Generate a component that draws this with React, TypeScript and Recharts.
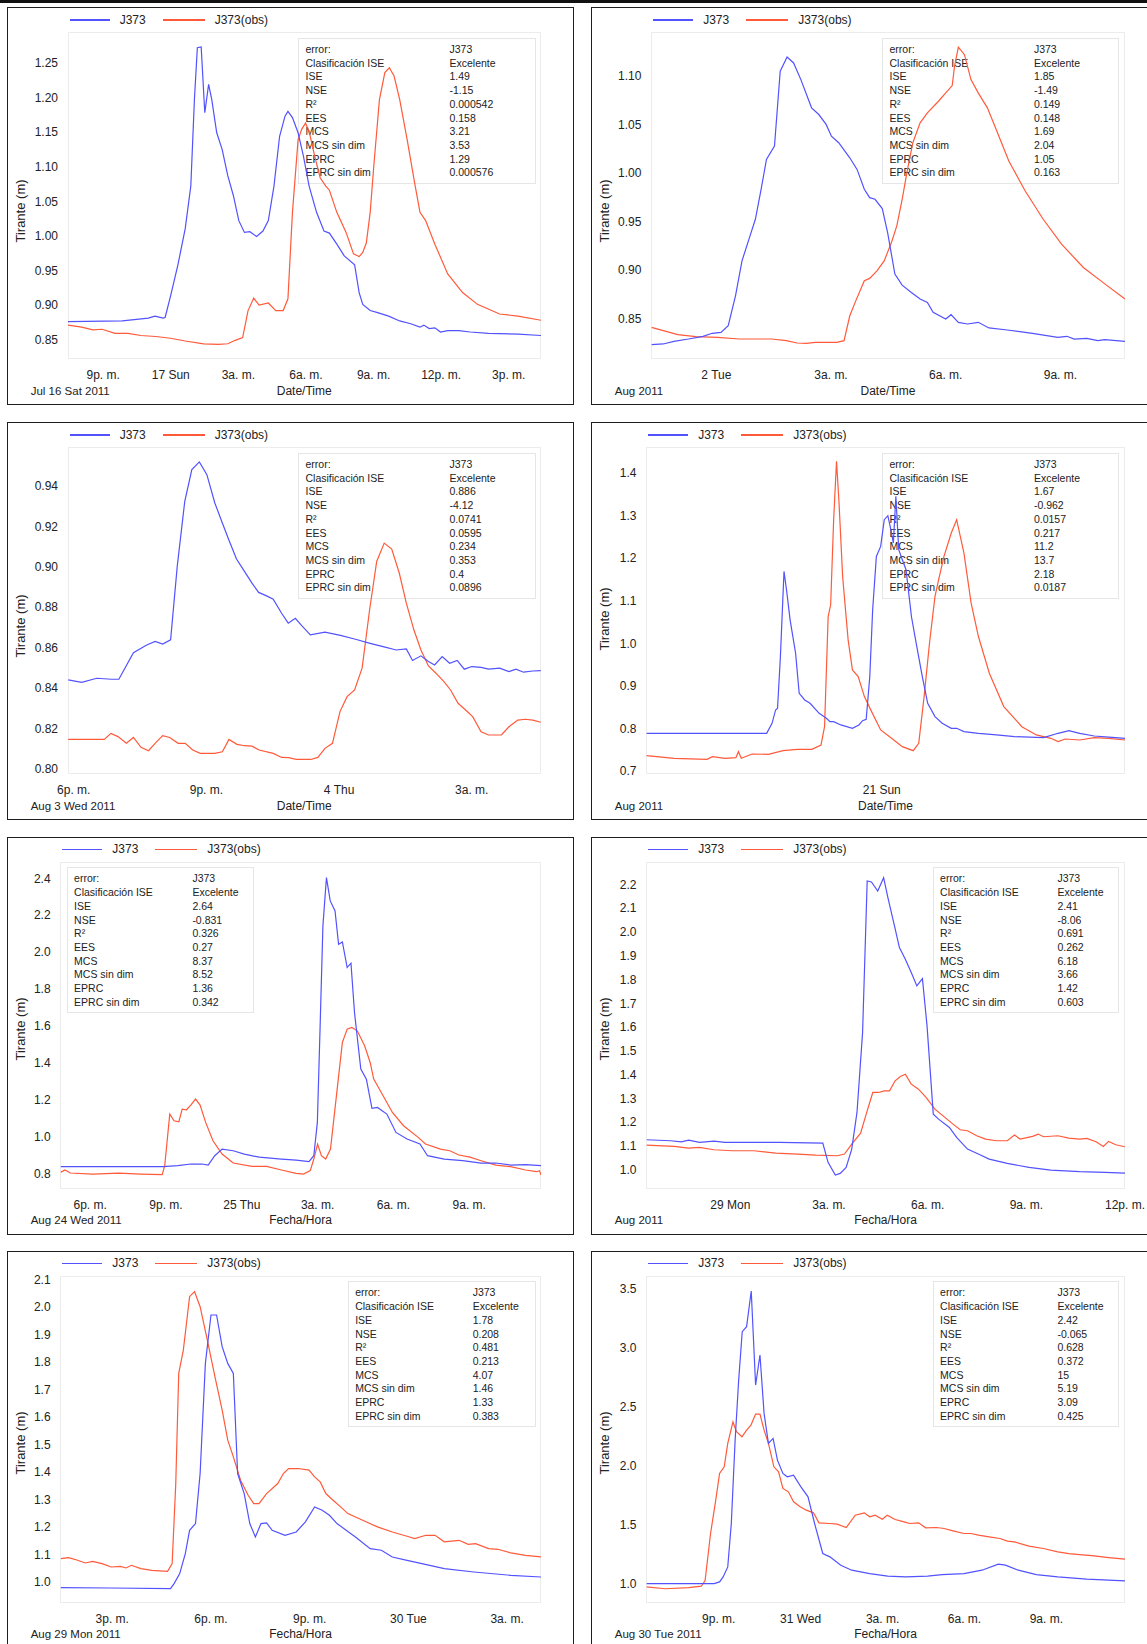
import { LineChart, Line, XAxis, YAxis } from "recharts";

type Pt = [number, number];

const FONT = '"Liberation Sans", Arial, Helvetica, sans-serif';
const BLUE = "#5252ff";
const RED = "#ff5a3a";
const W = 567;
const H = 398;
const PLOT_TOP = 25;
const PLOT_H = 327;
const RIGHT = 33;

const statNames = ["error:", "Clasificación ISE", "ISE", "NSE", "R²", "EES", "MCS", "MCS sin dim", "EPRC", "EPRC sin dim"];

// ---- panel 1: Jul 16-17 ----
const sim1: Pt[] = [[19.44,0.876],[21.85,0.877],[23.0,0.881],[23.3,0.884],[23.66,0.881],[23.75,0.882],[23.99,0.913],[24.31,0.957],[24.64,1.01],[24.89,1.072],[25.05,1.197],[25.18,1.272],[25.35,1.273],[25.51,1.178],[25.68,1.219],[25.82,1.197],[26.04,1.149],[26.28,1.125],[26.53,1.087],[26.78,1.058],[27.02,1.022],[27.27,1.005],[27.51,1.006],[27.81,0.999],[28.09,1.007],[28.33,1.022],[28.58,1.072],[28.83,1.144],[29.07,1.173],[29.2,1.18],[29.4,1.171],[29.65,1.149],[29.89,1.115],[30.14,1.072],[30.47,1.034],[30.8,1.007],[31.04,1.004],[31.37,0.988],[31.7,0.971],[32.16,0.958],[32.36,0.918],[32.52,0.901],[32.85,0.892],[33.18,0.889],[33.67,0.884],[34.16,0.877],[34.65,0.873],[35.06,0.868],[35.23,0.871],[35.47,0.866],[35.72,0.867],[35.97,0.861],[36.29,0.863],[36.79,0.863],[37.28,0.861],[38.1,0.859],[39.41,0.858],[40.43,0.856]];
const obs1: Pt[] = [[19.44,0.871],[20.05,0.868],[20.54,0.864],[20.95,0.865],[21.53,0.859],[22.1,0.859],[22.67,0.856],[23.33,0.8545],[23.99,0.852],[24.64,0.848],[25.46,0.844],[26.12,0.843],[26.53,0.844],[26.86,0.849],[27.19,0.853],[27.43,0.892],[27.68,0.91],[27.92,0.9],[28.33,0.903],[28.66,0.892],[28.99,0.892],[29.2,0.909],[29.4,1.034],[29.65,1.139],[29.81,1.154],[29.98,1.163],[30.14,1.151],[30.39,1.115],[30.63,1.084],[30.88,1.072],[31.04,1.066],[31.37,1.034],[31.78,1.005],[32.11,0.974],[32.36,0.97],[32.52,0.976],[32.68,0.99],[32.85,1.034],[33.01,1.101],[33.26,1.197],[33.5,1.236],[33.7,1.243],[33.91,1.231],[34.16,1.197],[34.49,1.139],[34.82,1.077],[35.06,1.034],[35.31,1.022],[35.72,0.988],[36.29,0.945],[36.95,0.918],[37.61,0.901],[38.59,0.887],[39.41,0.884],[40.43,0.878]];
const ticksX1 = [21, 24, 27, 30, 33, 36, 39];
const labelsX1 = ["9p. m.", "17 Sun", "3a. m.", "6a. m.", "9a. m.", "12p. m.", "3p. m."];
const ticksY1 = [0.85, 0.9, 0.95, 1.0, 1.05, 1.1, 1.15, 1.2, 1.25];
const stats1 = ["J373", "Excelente", "1.49", "-1.15", "0.000542", "0.158", "3.21", "3.53", "1.29", "0.000576"];

// ---- panel 2: Aug 1-2 ----
const sim2: Pt[] = [[22.3,0.823],[22.61,0.8236],[22.89,0.8263],[23.27,0.8287],[23.65,0.8315],[23.89,0.8346],[24.12,0.8356],[24.31,0.8425],[24.5,0.8733],[24.67,0.9093],[24.88,0.935],[25.02,0.9522],[25.17,0.9831],[25.31,1.0139],[25.52,1.0276],[25.67,1.1048],[25.85,1.1195],[26.02,1.1134],[26.21,1.0962],[26.49,1.0671],[26.68,1.0602],[26.87,1.05],[27.01,1.0379],[27.2,1.0311],[27.49,1.0156],[27.68,1.0036],[27.87,0.9831],[28.01,0.9745],[28.15,0.9728],[28.34,0.9632],[28.48,0.9385],[28.67,0.8956],[28.86,0.8843],[29.1,0.8767],[29.33,0.8699],[29.52,0.8665],[29.67,0.8562],[30.0,0.8493],[30.14,0.8538],[30.33,0.8459],[30.57,0.8442],[30.85,0.8459],[31.13,0.8401],[31.61,0.838],[32.27,0.8346],[32.93,0.8305],[33.17,0.8315],[33.36,0.8287],[33.69,0.8294],[33.98,0.827],[34.16,0.828],[34.69,0.8263]];
const obs2: Pt[] = [[22.3,0.8407],[22.61,0.8373],[22.99,0.8332],[23.46,0.8311],[24.03,0.8305],[24.6,0.8287],[25.45,0.8287],[25.83,0.827],[26.11,0.8246],[26.35,0.8243],[26.59,0.8253],[27.15,0.8253],[27.34,0.827],[27.49,0.8527],[27.63,0.8665],[27.87,0.8888],[28.01,0.8912],[28.2,0.899],[28.39,0.9093],[28.58,0.9282],[28.72,0.9453],[28.86,0.9728],[29.0,1.0036],[29.14,1.0311],[29.33,1.0516],[29.52,1.0619],[29.81,1.0739],[30.0,1.0825],[30.17,1.0901],[30.23,1.1099],[30.33,1.1298],[30.49,1.1219],[30.66,1.0962],[30.85,1.0825],[31.09,1.0671],[31.32,1.0448],[31.65,1.0122],[32.08,0.9813],[32.55,0.9522],[33.03,0.9265],[33.6,0.9025],[34.17,0.8853],[34.69,0.8699]];
const ticksX2 = [24, 27, 30, 33];
const labelsX2 = ["2 Tue", "3a. m.", "6a. m.", "9a. m."];
const ticksY2 = [0.85, 0.9, 0.95, 1.0, 1.05, 1.1];
const stats2 = ["J373", "Excelente", "1.85", "-1.49", "0.149", "0.148", "1.69", "2.04", "1.05", "0.163"];

// ---- panel 3: Aug 3-4 ----
const sim3: Pt[] = [[17.875,0.844],[18.18,0.8428],[18.52,0.8448],[18.85,0.8443],[19.02,0.8443],[19.35,0.8575],[19.65,0.8613],[19.84,0.863],[20.01,0.8617],[20.19,0.8638],[20.34,0.9002],[20.51,0.9324],[20.67,0.9481],[20.84,0.9519],[21.01,0.9456],[21.19,0.9316],[21.36,0.9217],[21.51,0.9131],[21.68,0.9038],[21.86,0.8977],[22.03,0.8919],[22.18,0.8873],[22.36,0.8856],[22.51,0.884],[22.7,0.877],[22.85,0.8721],[23.01,0.8745],[23.16,0.8707],[23.35,0.8663],[23.68,0.8676],[24.03,0.866],[24.37,0.8641],[24.7,0.8621],[25.04,0.8602],[25.29,0.8588],[25.52,0.8593],[25.66,0.8536],[25.85,0.8559],[26.02,0.8531],[26.16,0.8514],[26.33,0.8555],[26.5,0.8522],[26.67,0.8536],[26.83,0.8493],[27.0,0.8506],[27.21,0.8502],[27.38,0.8493],[27.63,0.8498],[27.84,0.8481],[28.0,0.8493],[28.17,0.8478],[28.38,0.8484],[28.56,0.8486]];
const obs3: Pt[] = [[17.875,0.8145],[18.69,0.8145],[18.84,0.8175],[19.0,0.8159],[19.19,0.8126],[19.35,0.8155],[19.52,0.8106],[19.69,0.8089],[19.84,0.8126],[20.01,0.8164],[20.17,0.8155],[20.36,0.8126],[20.52,0.8126],[20.69,0.8093],[20.86,0.8076],[21.19,0.8076],[21.36,0.8084],[21.51,0.8145],[21.69,0.8121],[21.86,0.8114],[22.03,0.8112],[22.19,0.8093],[22.51,0.8076],[22.7,0.8056],[22.86,0.8055],[23.03,0.8046],[23.36,0.8046],[23.52,0.8056],[23.68,0.8101],[23.85,0.8126],[24.02,0.8283],[24.18,0.8357],[24.35,0.839],[24.52,0.8498],[24.69,0.8787],[24.85,0.9026],[25.02,0.9117],[25.19,0.9088],[25.36,0.8969],[25.52,0.882],[25.69,0.8688],[25.85,0.8588],[26.02,0.8509],[26.19,0.8473],[26.37,0.8431],[26.52,0.839],[26.69,0.8324],[26.86,0.8291],[27.02,0.8258],[27.21,0.8183],[27.38,0.8167],[27.67,0.8167],[27.84,0.8208],[28.04,0.8241],[28.21,0.8245],[28.38,0.8241],[28.56,0.823]];
const ticksX3 = [18, 21, 24, 27];
const labelsX3 = ["6p. m.", "9p. m.", "4 Thu", "3a. m."];
const ticksY3 = [0.8, 0.82, 0.84, 0.86, 0.88, 0.9, 0.92, 0.94];
const stats3 = ["J373", "Excelente", "0.886", "-4.12", "0.0741", "0.0595", "0.234", "0.353", "0.4", "0.0896"];

// ---- panel 4: Aug 20-21 ----
const sim4: Pt[] = [[4.33,0.7886],[14.38,0.7886],[14.83,0.812],[15.13,0.8434],[15.29,0.8473],[15.53,0.9689],[15.83,1.1688],[16.04,1.1257],[16.34,1.0551],[16.8,0.9767],[17.1,0.8826],[17.56,0.8669],[18.01,0.8591],[18.77,0.8356],[19.37,0.8238],[19.67,0.816],[19.98,0.816],[20.58,0.8082],[21.55,0.8003],[22.09,0.8082],[22.4,0.8183],[22.7,0.8215],[23.0,0.9218],[23.24,1.0786],[23.55,1.204],[23.91,1.2275],[24.21,1.2903],[24.51,1.2997],[24.76,1.2667],[24.97,1.2354],[25.18,1.3451],[25.42,1.2197],[25.72,1.1962],[26.03,1.1727],[26.48,1.0629],[26.93,0.9924],[27.39,0.9218],[27.84,0.8591],[28.45,0.8278],[29.05,0.8121],[29.81,0.8003],[30.26,0.8003],[30.87,0.7925],[32.08,0.7886],[33.59,0.7847],[35.1,0.7807],[37.52,0.7784],[38.74,0.7886],[39.64,0.7948],[40.55,0.7886],[41.76,0.7823],[43.27,0.7792],[44.33,0.7768]];
const obs4: Pt[] = [[4.33,0.736],[6.66,0.7298],[9.39,0.7274],[9.85,0.7337],[10.9,0.7298],[11.81,0.7313],[12.02,0.7455],[12.26,0.7298],[13.17,0.74],[14.53,0.7392],[15.74,0.7478],[16.95,0.7509],[18.16,0.7509],[18.92,0.7611],[19.22,0.8042],[19.52,1.0629],[19.73,1.0904],[19.98,1.2903],[20.22,1.4274],[20.43,1.3295],[20.73,1.157],[21.19,1.008],[21.55,0.9375],[22.03,0.9218],[22.55,0.8748],[23.15,0.8395],[23.91,0.7964],[24.82,0.7768],[25.72,0.7572],[26.63,0.7478],[27.09,0.7651],[27.54,0.8748],[27.99,1.0002],[28.45,1.11],[28.75,1.1492],[29.2,1.204],[29.81,1.2589],[30.26,1.2903],[30.87,1.2119],[31.47,1.0943],[32.08,1.0159],[32.99,0.9297],[34.2,0.8513],[35.71,0.8042],[36.92,0.7847],[38.13,0.7768],[38.74,0.769],[39.34,0.7752],[40.55,0.7729],[41.76,0.7784],[42.97,0.7768],[44.33,0.7729]];
const ticksX4 = [24];
const labelsX4 = ["21 Sun"];
const ticksY4 = [0.7, 0.8, 0.9, 1.0, 1.1, 1.2, 1.3, 1.4];
const stats4 = ["J373", "Excelente", "1.67", "-0.962", "0.0157", "0.217", "11.2", "13.7", "2.18", "0.0187"];

// ---- panel 5: Aug 24-25 ----
const sim5: Pt[] = [[16.83,0.8396],[20.88,0.8396],[21.47,0.845],[21.98,0.8541],[22.42,0.8541],[22.67,0.8486],[22.93,0.8991],[23.22,0.9351],[23.66,0.9261],[24.1,0.9081],[24.69,0.891],[25.57,0.8811],[26.15,0.8757],[26.66,0.8667],[26.85,0.8991],[26.99,1.0793],[27.1,1.6018],[27.21,2.1423],[27.35,2.4036],[27.5,2.2775],[27.69,2.2234],[27.83,2.0432],[27.98,2.0559],[28.17,1.9171],[28.32,1.9405],[28.46,1.6739],[28.71,1.3676],[28.93,1.3135],[29.15,1.155],[29.37,1.1604],[29.74,1.1243],[30.1,1.0252],[30.54,0.9892],[31.05,0.9622],[31.35,0.8991],[32.01,0.8811],[32.74,0.872],[33.47,0.8595],[34.05,0.8595],[34.64,0.8486],[35.23,0.8505],[35.84,0.845]];
const obs5: Pt[] = [[16.83,0.809],[17.0,0.8216],[17.22,0.8054],[18.1,0.8],[19.13,0.8054],[20.0,0.8],[20.85,0.7964],[20.95,0.845],[21.15,1.1243],[21.32,1.0883],[21.51,1.0829],[21.64,1.1514],[21.81,1.1477],[21.98,1.173],[22.17,1.2054],[22.35,1.173],[22.57,1.0793],[22.86,0.9802],[23.22,0.9081],[23.66,0.8595],[24.4,0.8414],[24.98,0.8414],[25.57,0.8216],[26.15,0.8036],[26.44,0.8],[26.71,0.8182],[26.85,0.8811],[27.0,0.9622],[27.15,0.8991],[27.32,0.8811],[27.51,0.9351],[27.76,1.2414],[27.98,1.5117],[28.17,1.5838],[28.35,1.5928],[28.57,1.5748],[28.86,1.4937],[29.08,1.4036],[29.22,1.3135],[29.52,1.2414],[29.96,1.1333],[30.4,1.0613],[30.98,0.9982],[31.27,0.9622],[31.86,0.9351],[32.23,0.9261],[32.59,0.9027],[33.03,0.891],[33.47,0.872],[34.05,0.8486],[34.64,0.8396],[35.23,0.8216],[35.66,0.8126],[35.78,0.8182],[35.84,0.7946]];
const ticksX5 = [18, 21, 24, 27, 30, 33];
const labelsX5 = ["6p. m.", "9p. m.", "25 Thu", "3a. m.", "6a. m.", "9a. m."];
const ticksY5 = [0.8, 1.0, 1.2, 1.4, 1.6, 1.8, 2.0, 2.2, 2.4];
const stats5 = ["J373", "Excelente", "2.64", "-0.831", "0.326", "0.27", "8.37", "8.52", "1.36", "0.342"];

// ---- panel 6: Aug 28-29 ----
const sim6: Pt[] = [[21.45,1.126],[22.18,1.1219],[22.51,1.1176],[22.73,1.1247],[23.06,1.1149],[23.5,1.1205],[23.83,1.1149],[24.39,1.1149],[25.49,1.1149],[26.81,1.1121],[26.97,1.0309],[27.19,0.9777],[27.34,0.9847],[27.52,1.0099],[27.69,1.0869],[27.85,1.2409],[28.02,1.5769],[28.16,2.214],[28.29,2.2098],[28.48,2.172],[28.66,2.228],[28.79,2.144],[28.99,2.025],[29.14,1.934],[29.32,1.885],[29.5,1.829],[29.67,1.773],[29.84,1.8037],[29.98,1.6049],[30.17,1.2339],[30.33,1.2129],[30.66,1.1779],[30.88,1.1359],[31.21,1.0869],[31.54,1.0659],[31.87,1.0449],[32.42,1.0267],[33.08,1.0099],[33.74,0.9987],[34.62,0.9917],[35.39,0.9889],[36.0,0.9861]];
const obs6: Pt[] = [[21.45,1.1037],[22.29,1.0981],[22.73,1.0911],[23.06,1.0939],[23.5,1.0841],[24.06,1.0799],[24.72,1.0799],[25.38,1.0701],[26.04,1.0659],[26.59,1.0617],[27.25,1.0589],[27.47,1.0659],[27.69,1.1079],[27.96,1.154],[28.13,1.2339],[28.33,1.3249],[28.51,1.3249],[28.68,1.3319],[28.84,1.3319],[29.01,1.3739],[29.17,1.3921],[29.32,1.4019],[29.5,1.3599],[29.72,1.3389],[29.95,1.3039],[30.22,1.2549],[30.44,1.2297],[30.77,1.1919],[30.99,1.1681],[31.21,1.1639],[31.49,1.1429],[31.76,1.1289],[32.09,1.1219],[32.42,1.1219],[32.64,1.1457],[32.81,1.1289],[33.19,1.1401],[33.36,1.1499],[33.52,1.1387],[33.96,1.1429],[34.29,1.1331],[34.62,1.1289],[34.84,1.1317],[35.12,1.1177],[35.34,1.0981],[35.5,1.1191],[35.72,1.1051],[36.0,1.0967]];
const ticksX6 = [24, 27, 30, 33, 36];
const labelsX6 = ["29 Mon", "3a. m.", "6a. m.", "9a. m.", "12p. m."];
const ticksY6 = [1.0, 1.1, 1.2, 1.3, 1.4, 1.5, 1.6, 1.7, 1.8, 1.9, 2.0, 2.1, 2.2];
const stats6 = ["J373", "Excelente", "2.41", "-8.06", "0.691", "0.262", "6.18", "3.66", "1.42", "0.603"];

// ---- panel 7: Aug 29-30 ----
const sim7: Pt[] = [[13.43,0.9793],[14.97,0.9781],[16.77,0.9757],[16.88,0.9939],[17.05,1.0303],[17.22,1.103],[17.35,1.1879],[17.53,1.2122],[17.67,1.3941],[17.83,1.7944],[18.0,1.9702],[18.17,1.9702],[18.34,1.855],[18.51,1.7944],[18.68,1.758],[18.81,1.3941],[19.01,1.3214],[19.18,1.2122],[19.35,1.1637],[19.52,1.2122],[19.69,1.2146],[19.86,1.1879],[20.25,1.1697],[20.59,1.1818],[20.87,1.2183],[21.15,1.2728],[21.38,1.2607],[21.6,1.2425],[21.83,1.2122],[22.39,1.1637],[22.84,1.1212],[23.18,1.1152],[23.51,1.0909],[23.96,1.0788],[24.41,1.0667],[25.09,1.0484],[25.99,1.0363],[27.11,1.0242],[28.03,1.0181]];
const obs7: Pt[] = [[13.43,1.0848],[13.67,1.0885],[13.95,1.0788],[14.18,1.0691],[14.4,1.0751],[14.69,1.0667],[14.97,1.0545],[15.25,1.0569],[15.42,1.0509],[15.58,1.0606],[15.87,1.0485],[16.2,1.0424],[16.68,1.0388],[16.82,1.0667],[16.93,1.3577],[17.02,1.758],[17.16,1.8429],[17.35,2.0369],[17.5,2.0551],[17.67,2.0005],[17.89,1.8793],[18.12,1.7459],[18.34,1.6246],[18.51,1.5154],[18.68,1.4548],[18.9,1.3699],[19.13,1.3153],[19.3,1.285],[19.46,1.285],[19.69,1.3214],[20.03,1.3577],[20.2,1.3941],[20.36,1.4123],[20.65,1.4123],[20.98,1.4063],[21.15,1.382],[21.32,1.3638],[21.49,1.3214],[21.71,1.2971],[21.94,1.2728],[22.16,1.2486],[22.61,1.2243],[23.06,1.2001],[23.51,1.1818],[23.96,1.1661],[24.19,1.1576],[24.53,1.1697],[24.81,1.1697],[25.09,1.146],[25.54,1.1515],[25.82,1.137],[26.04,1.1394],[26.44,1.1212],[26.72,1.1188],[27.11,1.1055],[27.56,1.097],[28.03,1.0909]];
const ticksX7 = [15, 18, 21, 24, 27];
const labelsX7 = ["3p. m.", "6p. m.", "9p. m.", "30 Tue", "3a. m."];
const ticksY7 = [1.0, 1.1, 1.2, 1.3, 1.4, 1.5, 1.6, 1.7, 1.8, 1.9, 2.0, 2.1];
const stats7 = ["J373", "Excelente", "1.78", "0.208", "0.481", "0.213", "4.07", "1.46", "1.33", "0.383"];

// ---- panel 8: Aug 30-31 ----
const sim8: Pt[] = [[18.35,1.0],[20.83,1.0],[21.03,1.0141],[21.16,1.0566],[21.33,1.1415],[21.46,1.5096],[21.6,2.2174],[21.73,2.7271],[21.86,3.1376],[22.02,3.18],[22.19,3.483],[22.35,2.6846],[22.51,2.9394],[22.66,2.4439],[22.82,2.1891],[22.99,2.2316],[23.15,2.0476],[23.35,1.9343],[23.51,1.906],[23.74,1.9202],[24.01,1.821],[24.27,1.7361],[24.51,1.5096],[24.81,1.2548],[25.07,1.2265],[25.47,1.1557],[25.87,1.1133],[26.53,1.0849],[27.19,1.0623],[27.85,1.0566],[28.65,1.0623],[29.18,1.0764],[29.98,1.0849],[30.64,1.1133],[31.24,1.1642],[31.5,1.1557],[31.97,1.1133],[32.63,1.0764],[33.42,1.0566],[34.48,1.0368],[35.88,1.0226]];
const obs8: Pt[] = [[18.35,0.9717],[19.04,0.9558],[19.9,0.966],[20.36,0.9774],[20.5,1.0247],[20.7,1.4247],[20.89,1.7076],[21.03,1.9343],[21.2,1.9909],[21.33,2.1891],[21.52,2.3731],[21.65,2.2882],[21.85,2.2458],[22.02,2.3024],[22.18,2.3448],[22.35,2.4382],[22.51,2.4382],[22.66,2.3024],[22.82,2.1891],[23.02,1.9909],[23.19,1.9485],[23.35,1.8069],[23.55,1.7786],[23.74,1.6937],[23.98,1.6512],[24.21,1.6228],[24.47,1.6002],[24.67,1.5153],[25.07,1.5096],[25.34,1.504],[25.67,1.4756],[26.0,1.5804],[26.33,1.6002],[26.53,1.5663],[26.73,1.5804],[26.99,1.5464],[27.17,1.5804],[27.46,1.5436],[27.79,1.5238],[27.99,1.5096],[28.32,1.5153],[28.58,1.4728],[28.98,1.4756],[29.25,1.4671],[29.58,1.4473],[29.98,1.4247],[30.24,1.4247],[30.51,1.4105],[30.9,1.3964],[31.3,1.3822],[31.57,1.3596],[31.83,1.3539],[32.36,1.3171],[32.89,1.2973],[33.42,1.269],[33.82,1.2548],[34.22,1.2463],[34.75,1.235],[35.28,1.2208],[35.88,1.2067]];
const ticksX8 = [21, 24, 27, 30, 33];
const labelsX8 = ["9p. m.", "31 Wed", "3a. m.", "6a. m.", "9a. m."];
const ticksY8 = [1.0, 1.5, 2.0, 2.5, 3.0, 3.5];
const stats8 = ["J373", "Excelente", "2.42", "-0.065", "0.628", "0.372", "15", "5.19", "3.09", "0.425"];

type Cfg = {
  left: number; top: number; yw: number;
  sim: Pt[]; obs: Pt[];
  xd: [number, number]; xt: number[]; xl: string[];
  yd: [number, number]; yt: number[]; dec: number;
  date: string; title: string; stats: string[];
  bx: number; bw: number; c2: number; ylc: number;
};

const panels: Cfg[] = [
  { left: 6.7, top: 7.3, yw: 61, sim: sim1, obs: obs1, xd: [19.44, 40.43], xt: ticksX1, xl: labelsX1, yd: [0.822, 1.2947], yt: ticksY1, dec: 2, date: "Jul 16 Sat 2011", title: "Date/Time", stats: stats1, bx: 291.3, bw: 237.7, c2: 151.5, ylc: 204 },
  { left: 590.8, top: 7.3, yw: 60.4, sim: sim2, obs: obs2, xd: [22.3, 34.69], xt: ticksX2, xl: labelsX2, yd: [0.8081, 1.1453], yt: ticksY2, dec: 2, date: "Aug 2011", title: "Date/Time", stats: stats2, bx: 291.2, bw: 237, c2: 151.9, ylc: 204 },
  { left: 6.7, top: 422.3, yw: 61, sim: sim3, obs: obs3, xd: [17.87, 28.565], xt: ticksX3, xl: labelsX3, yd: [0.7974, 0.9593], yt: ticksY3, dec: 2, date: "Aug 3 Wed 2011", title: "Date/Time", stats: stats3, bx: 291.3, bw: 237.7, c2: 151.5, ylc: 203.5 },
  { left: 590.8, top: 422.3, yw: 55.4, sim: sim4, obs: obs4, xd: [4.33, 44.33], xt: ticksX4, xl: labelsX4, yd: [0.693, 1.461], yt: ticksY4, dec: 1, date: "Aug 2011", title: "Date/Time", stats: stats4, bx: 291.2, bw: 237, c2: 151.9, ylc: 197 },
  { left: 6.7, top: 836.7, yw: 53.6, sim: sim5, obs: obs5, xd: [16.83, 35.84], xt: ticksX5, xl: labelsX5, yd: [0.719, 2.488], yt: ticksY5, dec: 1, date: "Aug 24 Wed 2011", title: "Fecha/Hora", stats: stats5, bx: 59.9, bw: 187.6, c2: 125.8, ylc: 192 },
  { left: 590.8, top: 836.7, yw: 55.4, sim: sim6, obs: obs6, xd: [21.446, 36.0], xt: ticksX6, xl: labelsX6, yd: [0.919, 2.294], yt: ticksY6, dec: 1, date: "Aug 2011", title: "Fecha/Hora", stats: stats6, bx: 341.8, bw: 186.4, c2: 124.8, ylc: 192 },
  { left: 6.7, top: 1250.7, yw: 53.6, sim: sim7, obs: obs7, xd: [13.43, 28.03], xt: ticksX7, xl: labelsX7, yd: [0.9236, 2.112], yt: ticksY7, dec: 1, date: "Aug 29 Mon 2011", title: "Fecha/Hora", stats: stats7, bx: 341, bw: 188, c2: 125, ylc: 192 },
  { left: 590.8, top: 1250.7, yw: 55.4, sim: sim8, obs: obs8, xd: [18.35, 35.88], xt: ticksX8, xl: labelsX8, yd: [0.835, 3.61], yt: ticksY8, dec: 1, date: "Aug 30 Tue 2011", title: "Fecha/Hora", stats: stats8, bx: 341.8, bw: 186.4, c2: 124.8, ylc: 192 },
];

const txt = { position: "absolute" as const, fontFamily: FONT, color: "#222", whiteSpace: "nowrap" as const };

function Panel({ p }: { p: Cfg }) {
  const plotW = W - p.yw - RIGHT;
  const sim = p.sim.map(([t, v]) => ({ t, v }));
  const obs = p.obs.map(([t, v]) => ({ t, v }));
  const lx = p.yw;
  return (
    <div style={{ position: "absolute", left: p.left, top: p.top, width: W, height: H, background: "#fff" }}>
      <div style={{ position: "absolute", inset: 0, border: "1px solid #1e1e1e", boxSizing: "border-box" }} />
      {/* plot frame */}
      <div style={{ position: "absolute", left: p.yw, top: PLOT_TOP, width: plotW, height: PLOT_H, border: "1px solid #ececec", boxSizing: "border-box" }} />
      {/* stats box */}
      <div style={{ position: "absolute", left: p.bx, top: 30.5, width: p.bw, height: 146, border: "1px solid #e6e6e6", boxSizing: "border-box" }} />
      {statNames.map((n, i) => (
        <div key={n} style={{ ...txt, left: p.bx + 7.5, top: 30.5 + 5.3 + i * 13.7, fontSize: 10.5, lineHeight: "13.7px" }}>{n}</div>
      ))}
      {p.stats.map((s, i) => (
        <div key={i} style={{ ...txt, left: p.bx + p.c2, top: 30.5 + 5.3 + i * 13.7, fontSize: 10.5, lineHeight: "13.7px" }}>{s}</div>
      ))}
      {/* legend */}
      <div style={{ position: "absolute", left: lx + 2, top: 12, width: 40, height: 1.5, background: BLUE }} />
      <div style={{ ...txt, left: lx + 52, top: 5.7, fontSize: 12, lineHeight: "14px" }}>J373</div>
      <div style={{ position: "absolute", left: lx + 95, top: 12, width: 42, height: 1.5, background: RED }} />
      <div style={{ ...txt, left: lx + 147, top: 5.7, fontSize: 12, lineHeight: "14px" }}>J373(obs)</div>
      {/* axis titles */}
      <div style={{ ...txt, left: 24, top: 376.4, fontSize: 11.5, lineHeight: "14px" }}>{p.date}</div>
      <div style={{ ...txt, left: p.yw + plotW / 2, top: 376.4, fontSize: 12, lineHeight: "14px", transform: "translateX(-50%)" }}>{p.title}</div>
      <div style={{ ...txt, left: 14, top: p.ylc, fontSize: 13, lineHeight: "16px", transform: "translate(-50%, -50%) rotate(-90deg)" }}>Tirante (m)</div>
      <div style={{ position: "absolute", left: 0, top: 0 }}>
        <LineChart width={W} height={H} margin={{ top: PLOT_TOP, right: RIGHT, left: 0, bottom: 0 }}>
          <XAxis
            type="number"
            dataKey="t"
            domain={p.xd}
            allowDataOverflow
            ticks={p.xt}
            interval={0}
            tickFormatter={(v: number) => p.xl[p.xt.indexOf(v)] ?? ""}
            axisLine={false}
            tickLine={false}
            tickSize={0}
            tickMargin={11}
            height={H - PLOT_TOP - PLOT_H}
            tick={{ fill: "#222", fontSize: 12, fontFamily: FONT }}
          />
          <YAxis
            type="number"
            domain={p.yd}
            allowDataOverflow
            ticks={p.yt}
            interval={0}
            tickFormatter={(v: number) => v.toFixed(p.dec)}
            axisLine={false}
            tickLine={false}
            tickSize={0}
            tickMargin={10}
            width={p.yw}
            tick={{ fill: "#222", fontSize: 12, fontFamily: FONT }}
          />
          <Line data={obs} dataKey="v" type="linear" stroke={RED} strokeWidth={1.2} dot={false} isAnimationActive={false} />
          <Line data={sim} dataKey="v" type="linear" stroke={BLUE} strokeWidth={1.2} dot={false} isAnimationActive={false} />
        </LineChart>
      </div>
    </div>
  );
}

export default function App() {
  return (
    <div style={{ position: "absolute", left: 0, top: 0, width: 1147, height: 1644, overflow: "hidden", background: "#fff" }}>
      <div style={{ position: "absolute", left: 0, top: 0, width: 1147, height: 3, background: "#111" }} />
      {panels.map((p, i) => (
        <Panel key={i} p={p} />
      ))}
    </div>
  );
}
